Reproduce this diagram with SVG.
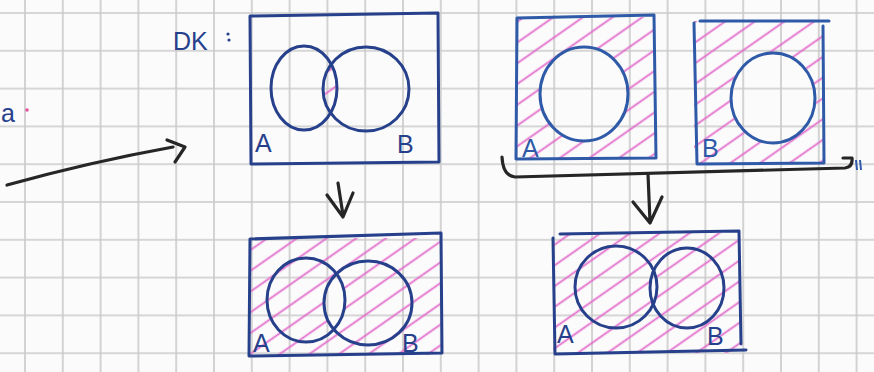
<svg xmlns="http://www.w3.org/2000/svg" width="874" height="372" viewBox="0 0 874 372">
<style>
.ink{fill:none;stroke:#27408b;stroke-width:3;stroke-linejoin:round;stroke-linecap:round}
.ink2{fill:none;stroke:#2f5aa8;stroke-width:3;stroke-linejoin:round;stroke-linecap:round}
.blk{fill:none;stroke:#262626;stroke-width:3.2;stroke-linejoin:round;stroke-linecap:round}
.lbl{font-family:"Liberation Sans",Arial,sans-serif;font-size:25px;fill:#27408b}
.lbl2{font-family:"Liberation Sans",Arial,sans-serif;font-size:25px;fill:#2f5aa8}
</style>
<defs>
<pattern id="grid" patternUnits="userSpaceOnUse" x="6.1" y="-5.9" width="37.8" height="37.8">
<path d="M18.9 0V37.8M0 18.9H37.8" stroke="#cacaca" stroke-width="1.6" fill="none"/>
</pattern>
<pattern id="hatch" patternUnits="userSpaceOnUse" width="17" height="17" patternTransform="rotate(-35)">
<line x1="0" y1="8.5" x2="17" y2="8.5" stroke="#e26ccb" stroke-width="1.8"/>
</pattern>
<clipPath id="clipA1"><ellipse cx="304" cy="88" rx="33" ry="42"/></clipPath>
<clipPath id="clipA2"><ellipse cx="306" cy="300" rx="39" ry="42"/></clipPath>
<clipPath id="clipA3"><ellipse cx="616" cy="287" rx="41" ry="41"/></clipPath>
<mask id="m2" maskUnits="userSpaceOnUse" x="0" y="0" width="874" height="372">
<rect x="250" y="238" width="192" height="117" fill="#fff"/>
<ellipse cx="368" cy="303" rx="44" ry="42" fill="#000" clip-path="url(#clipA2)"/>
</mask>
<mask id="m3" maskUnits="userSpaceOnUse" x="0" y="0" width="874" height="372">
<rect x="553" y="233" width="187" height="120" fill="#fff"/>
<ellipse cx="687" cy="288" rx="37" ry="40" fill="#000" clip-path="url(#clipA3)"/>
</mask>
<mask id="m4" maskUnits="userSpaceOnUse" x="0" y="0" width="874" height="372">
<rect x="517" y="17" width="138" height="142" fill="#fff"/>
<ellipse cx="584" cy="94" rx="44" ry="47" fill="#000"/>
</mask>
<mask id="m5" maskUnits="userSpaceOnUse" x="0" y="0" width="874" height="372">
<rect x="694" y="21" width="129" height="142" fill="#fff"/>
<ellipse cx="773" cy="98" rx="42" ry="45" fill="#000"/>
</mask>
</defs>
<rect width="874" height="372" fill="#fbfbfb"/>
<rect width="874" height="372" fill="url(#grid)"/>

<g id="stray">
<text x="1" y="122" class="lbl" font-size="22">a</text>
<circle cx="27" cy="110" r="1.8" fill="#e0559f"/>
</g>

<g id="label-dk">
<text x="173" y="50" class="lbl" font-size="32">DK</text>
<circle cx="228" cy="34" r="1.6" fill="#27408b"/>
<circle cx="229" cy="40" r="1.6" fill="#27408b"/>
</g>

<g id="node-intersection">
<ellipse cx="366" cy="89" rx="43" ry="42" fill="url(#hatch)" clip-path="url(#clipA1)"/>
<path class="ink" d="M250 16 L438 13 L439 162 L251 164 Z"/>
<ellipse class="ink" cx="304" cy="88" rx="33" ry="42"/>
<ellipse class="ink" cx="366" cy="89" rx="43" ry="42"/>
<text x="255" y="152" class="lbl">A</text>
<text x="397" y="153" class="lbl">B</text>
</g>

<g id="node-complement-intersection">
<rect x="250" y="238" width="192" height="117" fill="url(#hatch)" mask="url(#m2)"/>
<path class="ink" d="M250 239 L441 233 L442 353 L249 356 Z"/>
<ellipse class="ink" cx="306" cy="300" rx="39" ry="42"/>
<ellipse class="ink" cx="368" cy="303" rx="44" ry="42"/>
<text x="253" y="352" class="lbl">A</text>
<text x="402" y="352" class="lbl">B</text>
</g>

<g id="node-complement-a">
<rect x="517" y="17" width="138" height="142" fill="url(#hatch)" mask="url(#m4)"/>
<path class="ink2" d="M517 18 L654 15 L656 158 L516 159 Z"/>
<ellipse class="ink2" cx="584" cy="94" rx="44" ry="47"/>
<text x="522" y="157" class="lbl2">A</text>
</g>

<g id="node-complement-b">
<rect x="694" y="21" width="129" height="142" fill="url(#hatch)" mask="url(#m5)"/>
<path class="ink2" d="M700 21 L829 21 M823 26 L824 163 L697 164 L694 23"/>
<ellipse class="ink2" cx="773" cy="98" rx="42" ry="45"/>
<text x="702" y="157" class="lbl2">B</text>
</g>

<g id="node-union-complements">
<rect x="553" y="233" width="187" height="120" fill="url(#hatch)" mask="url(#m3)"/>
<path class="ink" d="M560 234 L739 231 L741 344 M553 238 L555 354 L746 350"/>
<ellipse class="ink" cx="616" cy="287" rx="41" ry="41"/>
<ellipse class="ink" cx="687" cy="288" rx="37" ry="40"/>
<text x="557" y="343" class="lbl">A</text>
<text x="707" y="345" class="lbl">B</text>
</g>

<g id="connectors">
<path class="blk" d="M7 185 Q90 162 173 147"/>
<path class="blk" d="M167 140 L185 147 L175 162"/>
<path class="blk" d="M338 183 L343 215 M327 195 L343 217 L353 193"/>
<path class="blk" d="M502 157 Q503 176 515 177 L845 168 Q853 167 852 158 L843 158"/>
<path class="blk" d="M648 174 L650 222 M633 202 L650 223 L662 197"/>
<path d="M856 160 L857 170 M860 160 L861 170" stroke="#2f5aa8" stroke-width="2" fill="none"/>
</g>
</svg>
